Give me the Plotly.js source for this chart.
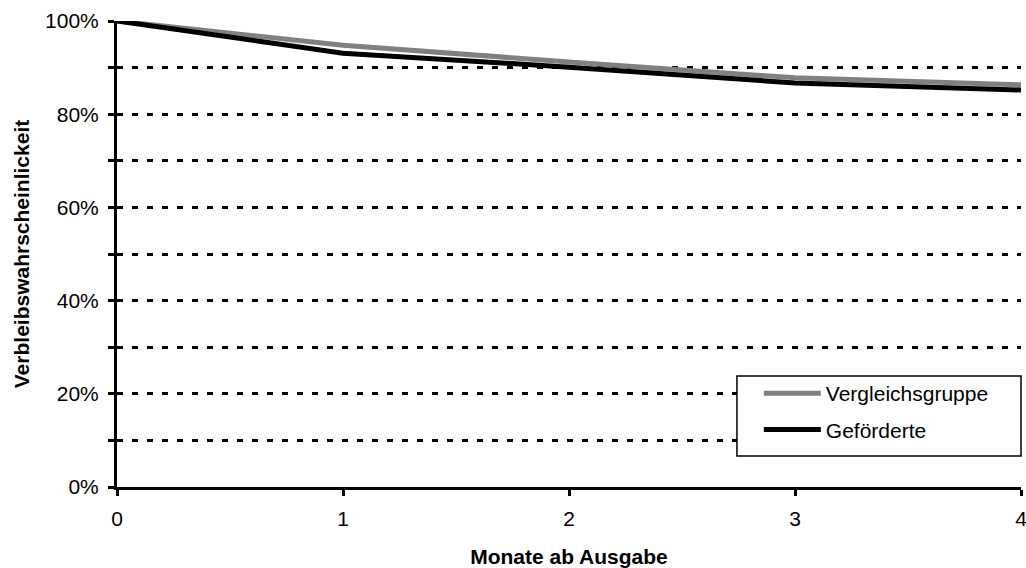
<!DOCTYPE html>
<html><head><meta charset="utf-8">
<script src="https://cdn.plot.ly/plotly-3.0.1.min.js"></script>
<style>body{margin:0;background:#fff}#c{width:1026px;height:568px}</style>
</head><body><div id="c"></div>
<script>
const months = [0, 1, 2, 3, 4];
const vergleichsgruppe = [1.0, 0.948, 0.912, 0.878, 0.863];
const gefoerderte = [1.0, 0.931, 0.901, 0.867, 0.852];
const yTickVals = [0,0.1,0.2,0.3,0.4,0.5,0.6,0.7,0.8,0.9,1.0];
const yTickText = ['0%','','20%','','40%','','60%','','80%','','100%'];

const traces = [
  {x: months, y: vergleichsgruppe, name: 'Vergleichsgruppe', mode: 'lines', legendgroup: 'a',
   line: {color: '#808080', width: 5}},
  {x: months, y: gefoerderte, name: 'Geförderte', mode: 'lines', legendgroup: 'b',
   line: {color: '#000000', width: 5}}
];
const fam = 'Liberation Sans, Arial, sans-serif';
const font = {family: fam, size: 21, color: '#000'};
const layout = {
  width: 1026, height: 568,
  margin: {l: 117, r: 5, t: 21, b: 81},
  paper_bgcolor: '#fff', plot_bgcolor: '#fff',
  font: font,
  showlegend: true,
  xaxis: {
    range: [0, 4], tickvals: months, ticktext: months.map(String),
    showgrid: false, zeroline: false, showline: true, linecolor: '#000', linewidth: 3,
    ticks: 'outside', ticklen: 6, tickwidth: 3, tickcolor: '#000',
    tickfont: font, ticklabelstandoff: 5, ticklabeloverflow: 'allow', automargin: false,
    title: {text: '<b>Monate ab Ausgabe</b>', font: {family: fam, size: 21, color: '#000'}, standoff: 21}
  },
  yaxis: {
    range: [0, 1], tickvals: yTickVals, ticktext: yTickText,
    showgrid: true, gridcolor: '#000', gridwidth: 3, griddash: '6px,9px',
    zeroline: false, showline: true, linecolor: '#000', linewidth: 3,
    ticks: 'outside', ticklen: 6, tickwidth: 3, tickcolor: '#000',
    tickfont: font, ticklabelstandoff: 5, ticklabeloverflow: 'allow', automargin: false,
    title: {text: '<b>Verbleibswahrscheinlickeit</b>', font: {family: fam, size: 21, color: '#000'}, standoff: 10}
  },
  shapes: [{type: 'rect', xref: 'paper', yref: 'paper', x0: 0.6858, x1: 1.0, y0: 0.0665, y1: 0.2382,
            line: {color: '#000', width: 1.5}, fillcolor: '#ffffff', layer: 'above'}],
  legend: {
    x: 0.710, y: 0.2446, xanchor: 'left', yanchor: 'top',
    bgcolor: 'rgba(0,0,0,0)', borderwidth: 0,
    font: font, itemwidth: 57, tracegroupgap: 6, traceorder: 'grouped'
  }
};
Plotly.newPlot('c', traces, layout, {displayModeBar: false, staticPlot: true});
</script></body></html>
